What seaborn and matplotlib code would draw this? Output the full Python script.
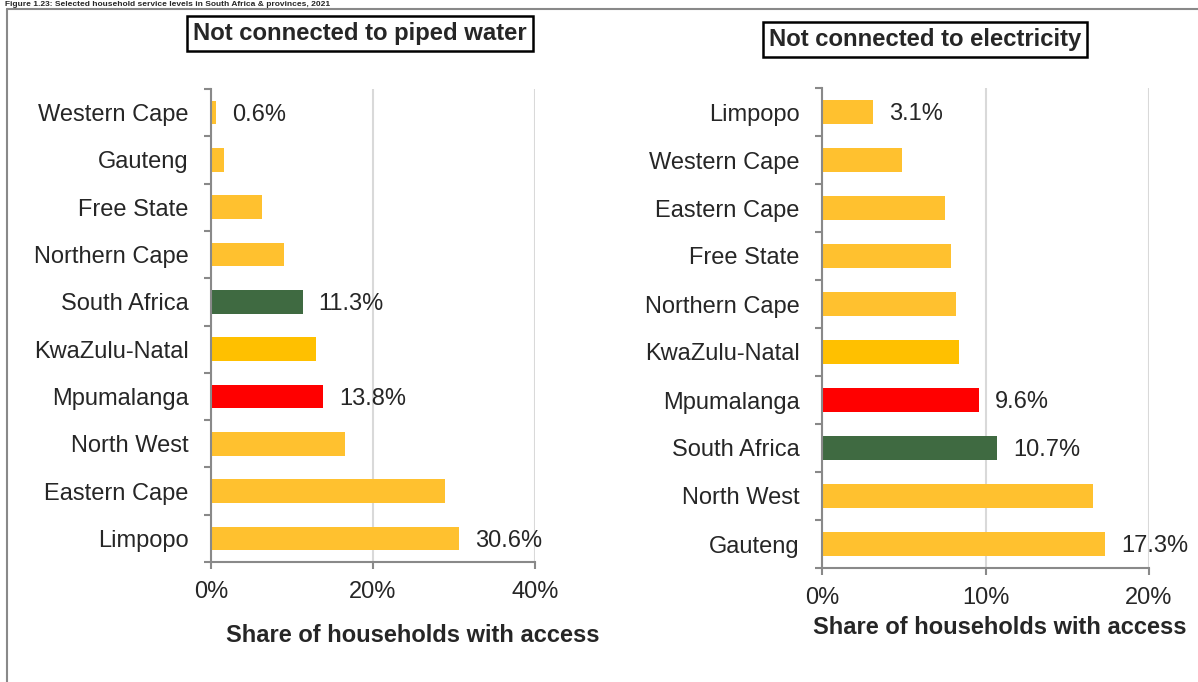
import matplotlib
matplotlib.use("Agg")
import matplotlib.pyplot as plt
from matplotlib.lines import Line2D
from matplotlib.ticker import FixedLocator, FuncFormatter
import seaborn as sns
import pandas as pd

# ---- data ----
water_regions = ["Western Cape", "Gauteng", "Free State", "Northern Cape", "South Africa",
                 "KwaZulu-Natal", "Mpumalanga", "North West", "Eastern Cape", "Limpopo"]
water_values = [0.6, 1.6, 6.3, 9.0, 11.3, 13.0, 13.8, 16.5, 28.9, 30.6]
water_labelled = ["Western Cape", "South Africa", "Mpumalanga", "Limpopo"]

elec_regions = ["Limpopo", "Western Cape", "Eastern Cape", "Free State", "Northern Cape",
                "KwaZulu-Natal", "Mpumalanga", "South Africa", "North West", "Gauteng"]
elec_values = [3.1, 4.9, 7.5, 7.9, 8.2, 8.4, 9.6, 10.7, 16.6, 17.3]
elec_labelled = ["Limpopo", "Mpumalanga", "South Africa", "Gauteng"]

water_ticks = [0, 20, 40]
elec_ticks = [0, 10, 20]

titles = ["Not connected to piped water", "Not connected to electricity"]
xlabel = "Share of households with access"
fig_title = "Figure 1.23: Selected household service levels in South Africa & provinces, 2021"

# ---- style ----
sns.set_style("white")
plt.rcParams["font.family"] = ["Liberation Sans", "DejaVu Sans"]

YELLOW = "#FFC12F"
KZN = "#FFC000"
GREEN = "#3F6A41"
RED = "#FF0000"
SPINE = "#898989"
GRID = "#D9D9D9"


def colour(r):
    if r == "South Africa":
        return GREEN
    if r == "Mpumalanga":
        return RED
    if r == "KwaZulu-Natal":
        return KZN
    return YELLOW


W, H = 1198, 682
fig = plt.figure(figsize=(W / 100, H / 100), dpi=100)

# frame lines
fig.add_artist(Line2D([7 / W, 7 / W], [1 - 8.5 / H, 0], color=SPINE, lw=1.5))
fig.add_artist(Line2D([7 / W, 1], [1 - 8.5 / H, 1 - 8.5 / H], color=SPINE, lw=1.5))
fig.text(5 / W, 1 - 6.5 / H, fig_title, fontsize=6, fontweight="bold", ha="left", va="baseline")

panels = [
    dict(regions=water_regions, values=water_values, lab=water_labelled, ticks=water_ticks,
         rect=[211 / W, 1 - 562 / H, (535 - 211) / W, (562 - 89) / H],
         title=titles[0], tpos=(360 / W, 1 - 31 / H), xlpos=(413 / W, 1 - 635 / H)),
    dict(regions=elec_regions, values=elec_values, lab=elec_labelled, ticks=elec_ticks,
         rect=[822 / W, 1 - 568 / H, (1149 - 822) / W, (568 - 88) / H],
         title=titles[1], tpos=(925 / W, 1 - 37 / H), xlpos=(1000 / W, 1 - 628 / H)),
]

for p in panels:
    ax = fig.add_axes(p["rect"])
    df = pd.DataFrame({"region": p["regions"], "value": p["values"]})
    sns.barplot(data=df, x="value", y="region", hue="region",
                palette=[colour(r) for r in p["regions"]], legend=False,
                width=0.5, orient="h", ax=ax, saturation=1, linewidth=0)
    ax.set_xlim(p["ticks"][0], p["ticks"][-1])
    ax.set_ylim(len(p["regions"]) - 0.5, -0.5)
    ax.set_xticks(p["ticks"])
    ax.xaxis.set_major_formatter(FuncFormatter(lambda v, pos: f"{v:.0f}%"))
    ax.set_xlabel("")
    ax.set_ylabel("")
    ax.grid(axis="x", color=GRID, lw=1.5)
    ax.set_axisbelow(True)
    for s in ["top", "right"]:
        ax.spines[s].set_visible(False)
    for s in ["left", "bottom"]:
        ax.spines[s].set_color(SPINE)
        ax.spines[s].set_linewidth(1.5)
    ax.yaxis.set_minor_locator(FixedLocator([i - 0.5 for i in range(len(p["regions"]) + 1)]))
    ax.tick_params(axis="y", which="major", length=0, pad=16, labelsize=17)
    ax.tick_params(axis="y", which="minor", length=5, width=1.5, color=SPINE, left=True)
    ax.tick_params(axis="x", which="major", length=5, width=1.5, color=SPINE, bottom=True,
                   pad=9, labelsize=17)
    for i, (r, v) in enumerate(zip(p["regions"], p["values"])):
        if r in p["lab"]:
            ax.annotate(f"{v:.1f}%", xy=(v, i), xytext=(11.5, 0), textcoords="offset points",
                        ha="left", va="center_baseline", fontsize=17, annotation_clip=False)
    fig.text(p["tpos"][0], p["tpos"][1], p["title"], fontsize=17.2, fontweight="bold",
             ha="center", va="center_baseline",
             bbox=dict(boxstyle="square,pad=0.24", fc="white", ec="black", lw=1.8))
    fig.text(p["xlpos"][0], p["xlpos"][1], xlabel, fontsize=17, fontweight="bold",
             ha="center", va="center")

fig.savefig("out.png", dpi=100)
